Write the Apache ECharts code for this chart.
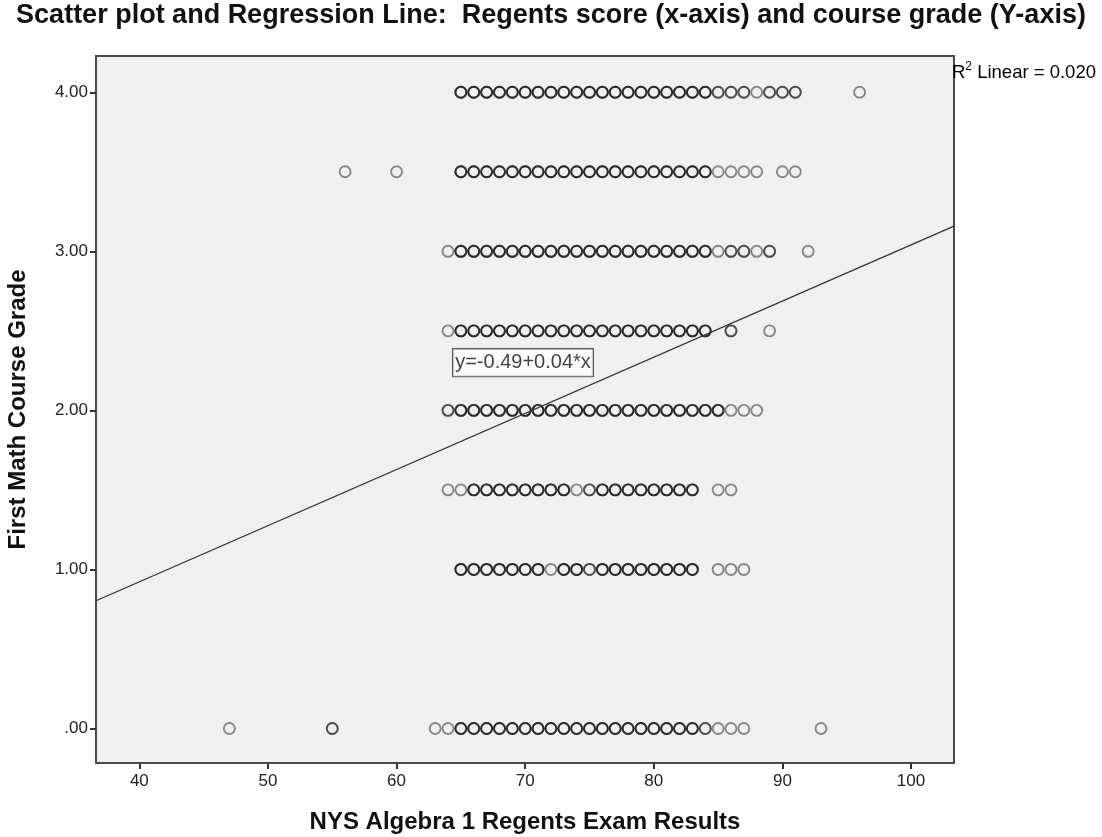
<!DOCTYPE html>
<html>
<head>
<meta charset="utf-8">
<script src="https://cdn.jsdelivr.net/npm/echarts@6/dist/echarts.min.js"></script>
<style>
  html, body { margin: 0; padding: 0; background: #ffffff; }
  #chart { width: 1102px; height: 837px; }
</style>
</head>
<body>
<div id="chart"></div>
<script>
// Students per Regents score, one list per course grade: [score, number of students]
const grade400 = [[65,3],[66,3],[67,3],[68,3],[69,3],[70,3],[71,3],[72,3],[73,3],[74,3],[75,3],[76,3],[77,3],[78,3],[79,3],[80,3],[81,3],[82,3],[83,3],[84,3],[85,2],[86,2],[87,2],[88,1],[89,2],[90,2],[91,2],[96,1]];
const grade350 = [[56,1],[60,1],[65,3],[66,3],[67,3],[68,3],[69,3],[70,3],[71,3],[72,3],[73,3],[74,3],[75,3],[76,3],[77,3],[78,3],[79,3],[80,3],[81,3],[82,3],[83,3],[84,3],[85,1],[86,1],[87,1],[88,1],[90,1],[91,1]];
const grade300 = [[64,1],[65,3],[66,3],[67,3],[68,3],[69,3],[70,3],[71,3],[72,3],[73,3],[74,3],[75,3],[76,3],[77,3],[78,3],[79,3],[80,3],[81,3],[82,3],[83,3],[84,3],[85,1],[86,2],[87,2],[88,1],[89,2],[92,1]];
const grade250 = [[64,1],[65,3],[66,3],[67,3],[68,3],[69,3],[70,3],[71,3],[72,3],[73,3],[74,3],[75,3],[76,3],[77,3],[78,3],[79,3],[80,3],[81,3],[82,3],[83,3],[84,3],[86,2],[89,1]];
const grade200 = [[64,2],[65,3],[66,3],[67,3],[68,3],[69,3],[70,3],[71,3],[72,3],[73,3],[74,3],[75,3],[76,3],[77,3],[78,3],[79,3],[80,3],[81,3],[82,3],[83,3],[84,3],[85,3],[86,1],[87,1],[88,1]];
const grade150 = [[64,1],[65,1],[66,3],[67,3],[68,3],[69,3],[70,3],[71,3],[72,3],[73,3],[74,1],[75,2],[76,3],[77,3],[78,3],[79,3],[80,3],[81,3],[82,3],[83,3],[85,1],[86,1]];
const grade100 = [[65,3],[66,3],[67,3],[68,3],[69,3],[70,3],[71,3],[72,1],[73,3],[74,3],[75,2],[76,3],[77,3],[78,3],[79,3],[80,3],[81,3],[82,3],[83,3],[85,1],[86,1],[87,1]];
const grade000 = [[47,1],[55,2],[63,1],[64,1],[65,3],[66,3],[67,3],[68,3],[69,3],[70,3],[71,3],[72,3],[73,3],[74,3],[75,3],[76,3],[77,3],[78,3],[79,3],[80,3],[81,3],[82,3],[83,3],[84,2],[85,1],[86,1],[87,1],[93,1]];

const gradeRows = [
  { grade: 4.0, students: grade400 },
  { grade: 3.5, students: grade350 },
  { grade: 3.0, students: grade300 },
  { grade: 2.5, students: grade250 },
  { grade: 2.0, students: grade200 },
  { grade: 1.5, students: grade150 },
  { grade: 1.0, students: grade100 },
  { grade: 0.0, students: grade000 }
];

// Fitted regression line and its summary
const intercept = -0.49;
const slope = 0.0353;
const rSquared = 0.020;

// Axis tick values
const xTicks = [40, 50, 60, 70, 80, 90, 100];
const yTicks = [0, 1, 2, 3, 4];

const xMin = 36.63, xMax = 103.34;
const yMin = -0.217, yMax = 4.228;

const FONT = "'Liberation Sans', Arial, sans-serif";

// One point per student; coincident points stack and darken the ring
const points = [];
gradeRows.forEach(row => {
  row.students.forEach(([score, n]) => {
    for (let i = 0; i < n; i++) points.push([score, row.grade]);
  });
});

const fit = x => intercept + slope * x;
const eqText = 'y=' + intercept.toFixed(2) + '+' + slope.toFixed(2) + '*x';

const chart = echarts.init(document.getElementById('chart'), null, { renderer: 'canvas' });

chart.setOption({
  animation: false,
  backgroundColor: '#ffffff',
  textStyle: { fontFamily: FONT },
  title: {
    text: 'Scatter plot and Regression Line:  Regents score (x-axis) and course grade (Y-axis)',
    left: 'center',
    top: -3,
    textStyle: { fontFamily: FONT, fontWeight: 'bold', fontSize: 27, color: '#111' }
  },
  grid: {
    left: 96, right: 148, top: 56, bottom: 74,
    outerBoundsMode: 'none',
    containLabel: false,
    show: true,
    backgroundColor: '#f0f0f0',
    borderColor: '#4a4a4a',
    borderWidth: 2
  },
  xAxis: {
    type: 'value',
    min: xMin, max: xMax,
    name: 'NYS Algebra 1 Regents Exam Results',
    nameLocation: 'middle',
    nameGap: 47,
    nameTextStyle: { fontFamily: FONT, fontWeight: 'bold', fontSize: 24, color: '#111' },
    axisLine: { show: false, onZero: false },
    splitLine: { show: false },
    axisTick: { show: true, length: 6, lineStyle: { color: '#333', width: 2 }, customValues: xTicks },
    axisLabel: { color: '#222', fontSize: 17, margin: 10, customValues: xTicks, formatter: v => String(v) }
  },
  yAxis: {
    type: 'value',
    min: yMin, max: yMax,
    name: 'First Math Course Grade',
    nameLocation: 'middle',
    nameGap: 66,
    nameRotate: 90,
    nameTextStyle: { fontFamily: FONT, fontWeight: 'bold', fontSize: 24, color: '#111' },
    axisLine: { show: false, onZero: false },
    splitLine: { show: false },
    axisTick: { show: true, length: 6, lineStyle: { color: '#333', width: 2 }, customValues: yTicks },
    axisLabel: {
      color: '#222', fontSize: 17, margin: 8, customValues: yTicks,
      formatter: v => v.toFixed(2).replace(/^0/, '')
    }
  },
  graphic: [{
    type: 'text',
    left: 952, top: 61,
    style: {
      text: '{t|R}{s|2}{t| Linear = ' + rSquared.toFixed(3) + '}',
      rich: {
        t: { fontFamily: FONT, fontSize: 18.5, color: '#222', verticalAlign: 'bottom' },
        s: { fontFamily: FONT, fontSize: 12, color: '#222', verticalAlign: 'top', padding: [0, 0, 9, 0] }
      }
    }
  }],
  series: [
    {
      name: 'Students',
      type: 'scatter',
      data: points,
      symbol: 'circle',
      symbolSize: 11,
      silent: true,
      itemStyle: { color: 'rgba(0,0,0,0)', borderColor: 'rgba(0,0,0,0.55)', borderWidth: 1.9 },
      z: 3
    },
    {
      name: 'Fit',
      type: 'line',
      data: [[xMin, fit(xMin)], [xMax, fit(xMax)]],
      showSymbol: false,
      silent: true,
      lineStyle: { color: '#333', width: 1.3 },
      z: 4
    },
    {
      name: 'Equation',
      type: 'scatter',
      data: [[64.4, 2.3]],
      symbolSize: 0,
      silent: true,
      z: 5,
      label: {
        show: true,
        position: 'right',
        distance: 0,
        formatter: eqText,
        fontFamily: FONT,
        fontSize: 20,
        color: '#111',
        backgroundColor: '#ffffff',
        borderColor: '#333',
        borderWidth: 1.2,
        padding: [4, 2, 3, 2]
      }
    }
  ]
});
</script>
</body>
</html>
